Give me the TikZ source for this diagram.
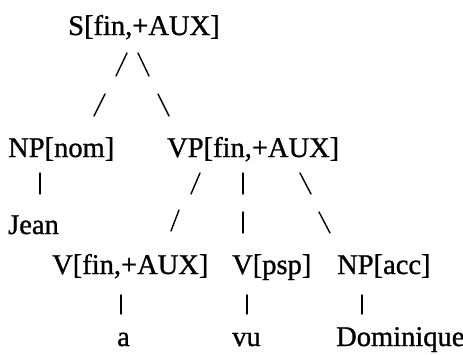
\documentclass[tikz,border=0pt]{standalone}
\usepackage{fontspec}
\setmainfont[FakeBold=1]{Liberation Serif}
\begin{document}
\begin{tikzpicture}[x=1pt,y=-1pt,
  lab/.style={anchor=base west,inner sep=0pt,font=\fontsize{28.5}{30}\selectfont},
  br/.style={line width=1.4pt,line cap=round}]
\useasboundingbox (0,0) rectangle (463,354);
% nodes
\node[lab] (S)    at (68,35)   {S[fin,+AUX]};
\node[lab] (NPn)  at (8,157)   {NP[nom]};
\node[lab] (VP)   at (167,157) {VP[fin,+AUX]};
\node[lab] (Jean) at (8,234)   {Jean};
\node[lab] (V1)   at (52,274)  {V[fin,+AUX]};
\node[lab] (V2)   at (232,274) {V[psp]};
\node[lab] (NPa)  at (337,274) {NP[acc]};
\node[lab] (a)    at (117,346) {a};
\node[lab] (vu)   at (232,346) {vu};
\node[lab] (Dom)  at (336,346) {Dominique};
% branch pieces
\coordinate (a1) at (127,53);  \coordinate (a2) at (116,76);
\coordinate (b1) at (138,53);  \coordinate (b2) at (149,76);
\coordinate (c1) at (105,94);  \coordinate (c2) at (94,116);
\coordinate (d1) at (158,94);  \coordinate (d2) at (169,116);
\coordinate (e1) at (40,173);  \coordinate (e2) at (40,194);
\coordinate (f1) at (200,173); \coordinate (f2) at (191,194);
\coordinate (g1) at (243,173); \coordinate (g2) at (243,194);
\coordinate (h1) at (300,173); \coordinate (h2) at (311,194);
\coordinate (i1) at (179,210); \coordinate (i2) at (171,231);
\coordinate (j1) at (243,212); \coordinate (j2) at (243,233);
\coordinate (k1) at (319,212); \coordinate (k2) at (330,233);
\coordinate (l1) at (121,295); \coordinate (l2) at (121,314);
\coordinate (m1) at (247,295); \coordinate (m2) at (247,314);
\coordinate (n1) at (362,295); \coordinate (n2) at (362,314);
\foreach \p in {a,b,c,d,e,f,g,h,i,j,k,l,m,n}
  \draw[br] (\p1) -- (\p2);
\end{tikzpicture}
\end{document}
